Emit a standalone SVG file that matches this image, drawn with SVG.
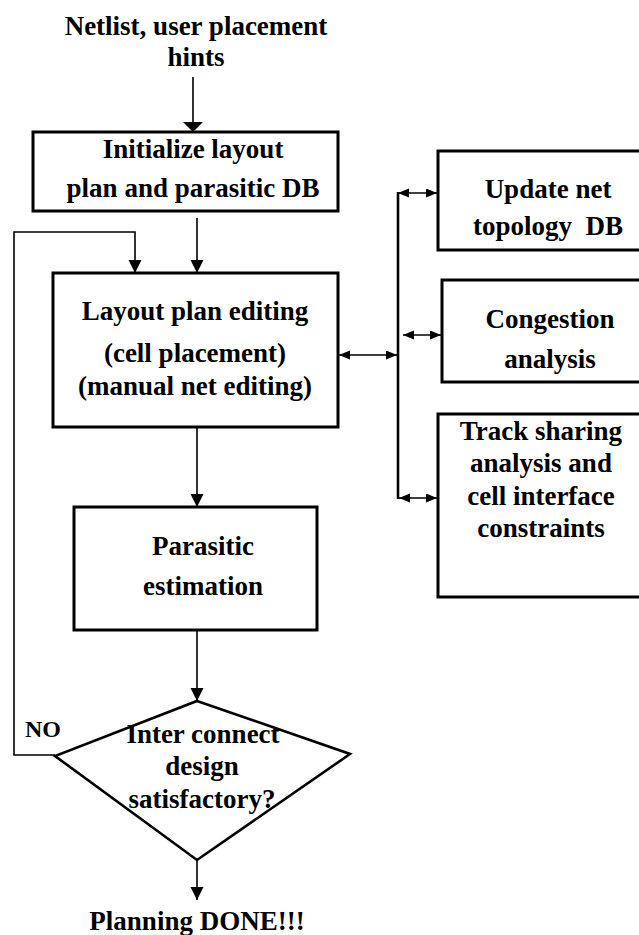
<svg xmlns="http://www.w3.org/2000/svg" width="639" height="935" viewBox="0 0 639 935">
<style>
text{font-family:"Liberation Serif","Times New Roman",serif;font-weight:700;font-size:27px;fill:#000;text-anchor:middle}
text.no{font-size:24px}
.box{fill:#fff;stroke:#000;stroke-width:3}
.ln{fill:none;stroke:#000;stroke-width:1.6}
.bus{fill:none;stroke:#000;stroke-width:2.6}
</style>
<defs>
<marker id="ah" markerUnits="userSpaceOnUse" markerWidth="14" markerHeight="14" refX="13" refY="6.5" orient="auto">
<path d="M0,0 L13,6.5 L0,13 z" fill="#000"/>
</marker>
<marker id="ahw" markerUnits="userSpaceOnUse" markerWidth="12" markerHeight="20" refX="10" refY="10" orient="auto">
<path d="M0,0 L10,10 L0,20 z" fill="#000"/>
</marker>
<marker id="dh" markerUnits="userSpaceOnUse" markerWidth="12" markerHeight="10" refX="11" refY="4.5" orient="auto-start-reverse">
<path d="M0,0 L11,4.5 L0,9 z" fill="#000"/>
</marker>
</defs>
<rect width="639" height="935" fill="#fff"/>

<g id="input">
<text x="196" y="35">Netlist, user placement</text>
<text x="196" y="66">hints</text>
</g>

<g id="connectors">
<line class="ln" x1="193" y1="77" x2="193" y2="132" marker-end="url(#ahw)"/>
<line class="ln" x1="197" y1="218" x2="197" y2="273" marker-end="url(#ah)"/>
<polyline class="ln" points="55,755 14,755 14,232 135,232 135,273" marker-end="url(#ah)"/>
<line class="ln" x1="197" y1="427" x2="197" y2="507" marker-end="url(#ah)"/>
<line class="ln" x1="197" y1="630" x2="197" y2="701" marker-end="url(#ah)"/>
<line class="ln" x1="197" y1="860" x2="197" y2="900" marker-end="url(#ah)"/>
<line class="ln" x1="339" y1="355" x2="397" y2="355" marker-start="url(#dh)" marker-end="url(#dh)"/>
<line class="bus" x1="398" y1="192" x2="398" y2="499"/>
<line class="ln" x1="398" y1="193" x2="437" y2="193" marker-start="url(#dh)" marker-end="url(#dh)"/>
<line class="ln" x1="403" y1="335" x2="441" y2="335" marker-start="url(#dh)" marker-end="url(#dh)"/>
<line class="ln" x1="399" y1="498" x2="437" y2="498" marker-start="url(#dh)" marker-end="url(#dh)"/>
</g>

<g id="init">
<rect class="box" x="33" y="132" width="305" height="79"/>
<text x="193" y="158">Initialize layout</text>
<text x="193" y="197">plan and parasitic DB</text>
</g>

<g id="edit">
<rect class="box" x="53" y="273" width="285" height="154"/>
<text x="195" y="320">Layout plan editing</text>
<text x="195" y="362">(cell placement)</text>
<text x="195" y="395">(manual net editing)</text>
</g>

<g id="update">
<rect class="box" x="438" y="151" width="210" height="99"/>
<text x="548" y="198">Update net</text>
<text x="548" y="235" xml:space="preserve">topology  DB</text>
</g>

<g id="congestion">
<rect class="box" x="442" y="280" width="210" height="102"/>
<text x="550" y="328">Congestion</text>
<text x="550" y="368">analysis</text>
</g>

<g id="track">
<rect class="box" x="438" y="414" width="210" height="183"/>
<text x="541" y="440">Track sharing</text>
<text x="541" y="472">analysis and</text>
<text x="541" y="505">cell interface</text>
<text x="541" y="537">constraints</text>
</g>

<g id="parasitic">
<rect class="box" x="74" y="507" width="243" height="123"/>
<text x="203" y="555">Parasitic</text>
<text x="203" y="595">estimation</text>
</g>

<g id="decision">
<polygon points="197,701 350,754 197,860 55,756" fill="#fff" stroke="#000" stroke-width="2.6"/>
<text x="203" y="743">Inter connect</text>
<text x="202" y="775">design</text>
<text x="202" y="808">satisfactory?</text>
<text class="no" x="43" y="737">NO</text>
</g>

<g id="done">
<text x="197" y="930">Planning DONE!!!</text>
</g>
</svg>
